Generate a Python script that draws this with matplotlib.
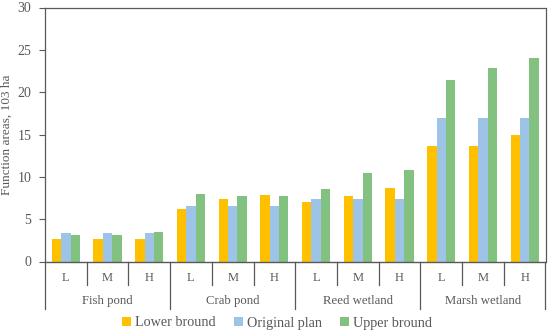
import matplotlib
matplotlib.use("Agg")
import matplotlib.pyplot as plt
import numpy as np

groups = ["Fish pond", "Crab pond", "Reed wetland", "Marsh wetland"]
levels = ["L", "M", "H"]
series_names = ["Lower bround", "Original plan", "Upper bround"]
lower = [2.7, 2.7, 2.7, 6.2, 7.4, 7.8, 7.0, 7.7, 8.7, 13.6, 13.6, 14.9]
original = [3.35, 3.35, 3.35, 6.6, 6.6, 6.6, 7.4, 7.4, 7.4, 17.0, 17.0, 17.0]
upper = [3.15, 3.15, 3.45, 7.95, 7.7, 7.7, 8.55, 10.45, 10.8, 21.4, 22.9, 24.0]
colors = ["#FFC000", "#9DC3E6", "#82C180"]

plt.rcParams['font.family'] = ['Liberation Serif', 'DejaVu Serif']
txt = "#595959"

fig = plt.figure(figsize=(5.5, 3.34), dpi=100)
ax = fig.add_axes([45/550, 1-261.5/334, 500.5/550, (261.5-7.5)/334])

n = len(lower)
x = np.arange(n)
w = 0.225
for i, (vals, c, name) in enumerate(zip([lower, original, upper], colors, series_names)):
    ax.bar(x + (i-1)*w, vals, width=w, color=c, label=name, linewidth=0)

ax.set_xlim(-0.5, n-0.5)
ax.set_ylim(0, 30)
ax.set_yticks(range(0, 31, 5))
ax.tick_params(axis='y', direction='out', length=4, width=0.8, color="#595959",
               labelsize=10, labelcolor=txt, pad=6)
ax.set_xticks([])
for s in ax.spines.values():
    s.set_color("#595959")
    s.set_linewidth(0.9)
ax.spines['bottom'].set_linewidth(1.0)
ax.set_ylabel("Function areas, 103 ha", fontsize=9.5, color=txt, labelpad=3)

trans = ax.get_xaxis_transform()
def ypix(py):
    return (1 - py/334 - ax.get_position().y0) / ax.get_position().height

for k in range(n):
    ax.text(k, ypix(278), levels[k % 3], transform=trans, ha='center', va='center',
            fontsize=9, color=txt, clip_on=False)
for g, name in enumerate(groups):
    ax.text(g*3 + 1, ypix(301), name, transform=trans, ha='center', va='center',
            fontsize=9.2, color=txt, clip_on=False)
for b in range(n+1):
    xb = b - 0.5
    end = ypix(308.5) if b % 3 == 0 else ypix(285)
    ax.plot([xb, xb], [0, end], transform=trans, color="#595959", lw=0.9,
            clip_on=False)

leg = fig.legend(loc='center', bbox_to_anchor=(277/550, 1-323/334), ncol=3,
                 frameon=False, fontsize=10.2, handlelength=0.65, handleheight=0.65,
                 handletextpad=0.25, columnspacing=1.3, borderaxespad=0)
for t in leg.get_texts():
    t.set_color(txt)

fig.savefig("out.png", dpi=100)
